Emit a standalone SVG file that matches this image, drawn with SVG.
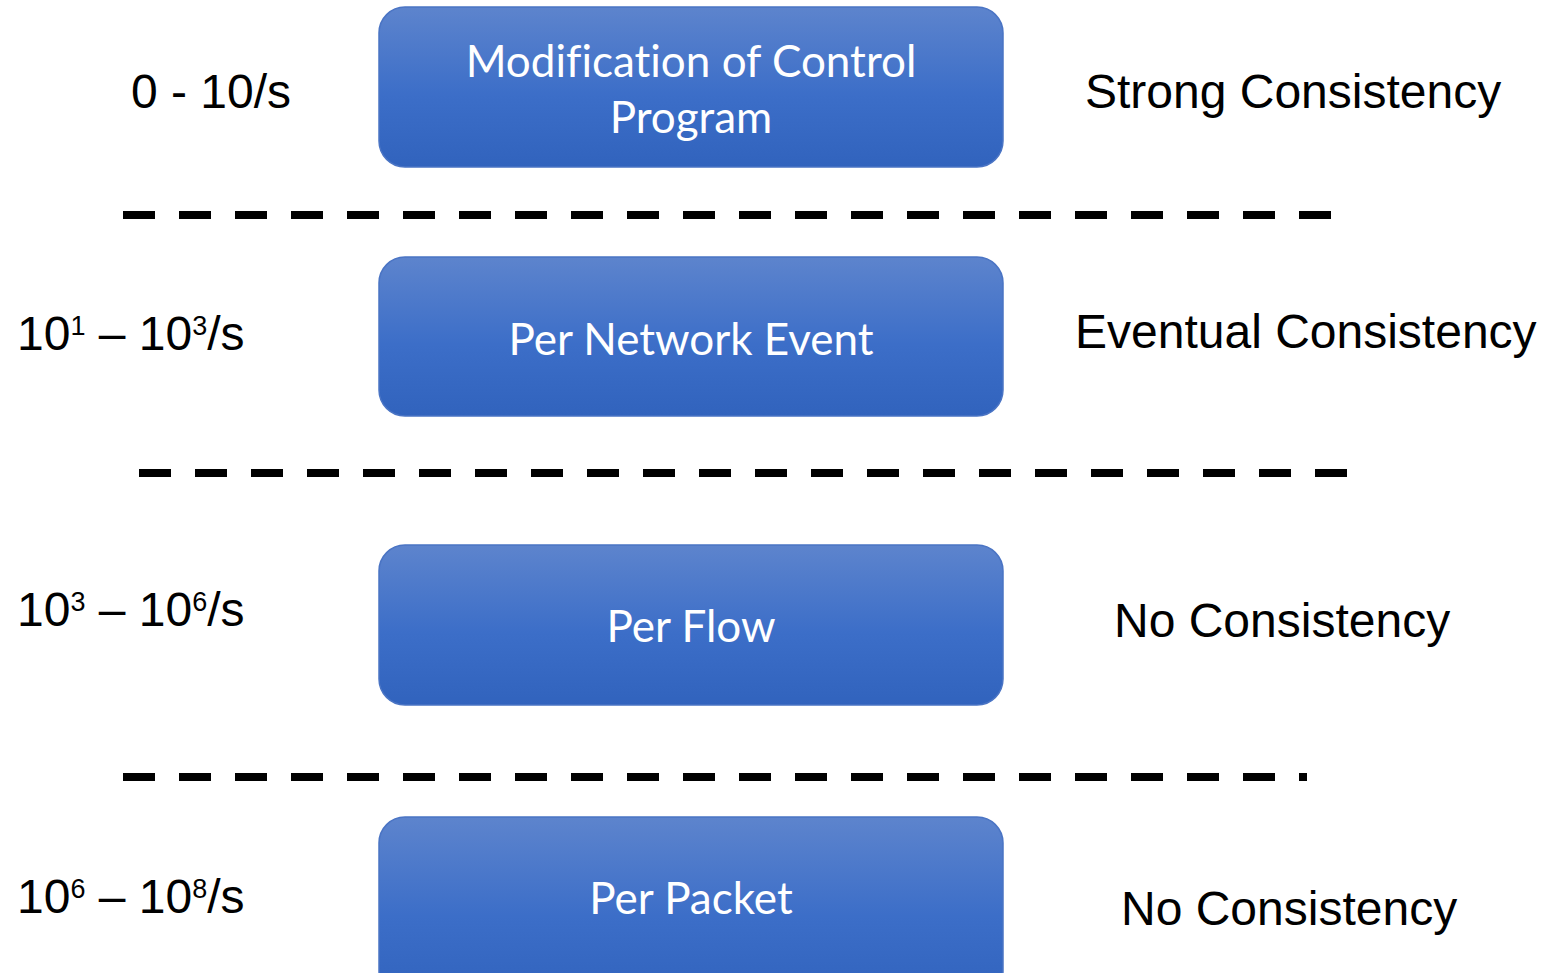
<svg xmlns="http://www.w3.org/2000/svg" width="1554" height="973" viewBox="0 0 1554 973">
  <defs>
    <linearGradient id="boxFill" x1="0" y1="0" x2="0" y2="1">
      <stop offset="0" stop-color="#5d84cd"/>
      <stop offset="0.55" stop-color="#3c6ec8"/>
      <stop offset="1" stop-color="#3163bd"/>
    </linearGradient>
  </defs>
  <style>
    .box { fill: url(#boxFill); stroke: #4a74c4; stroke-width: 1.5; }
    .boxText { font-family: Lato, "Open Sans", sans-serif; font-size: 44px; fill: #ffffff; text-anchor: middle; font-variant-ligatures: none; }
    .label { font-family: "Liberation Sans", Arial, sans-serif; font-size: 48px; fill: #000000; }
    .sup { font-size: 27px; }
    .sep { stroke: #000000; stroke-width: 8; stroke-dasharray: 32 24; fill: none; }
  </style>

  <rect width="1554" height="973" fill="#ffffff"/>

  <!-- Separators between rate tiers -->
  <g id="separators">
    <line class="sep" x1="123" y1="215" x2="1331" y2="215"/>
    <line class="sep" x1="139" y1="473" x2="1347" y2="473"/>
    <line class="sep" x1="123" y1="777" x2="1307" y2="777"/>
  </g>

  <!-- Tier 1 -->
  <g id="tier-control-program">
    <rect class="box" x="379" y="7" width="624" height="160" rx="26"/>
    <text class="boxText" x="691" y="77">Modification of Control</text>
    <text class="boxText" x="691" y="133">Program</text>
  </g>
  <g id="rate-1"><text class="label" x="131" y="108">0 - 10/s</text></g>
  <g id="consistency-1"><text class="label" x="1085" y="108">Strong Consistency</text></g>

  <!-- Tier 2 -->
  <g id="tier-network-event">
    <rect class="box" x="379" y="257" width="624" height="159" rx="26"/>
    <text class="boxText" x="691" y="355">Per Network Event</text>
  </g>
  <g id="rate-2"><text class="label" x="17" y="350">10<tspan class="sup" dy="-15">1</tspan><tspan dy="15"> – 10</tspan><tspan class="sup" dy="-15">3</tspan><tspan dy="15">/s</tspan></text></g>
  <g id="consistency-2"><text class="label" x="1075" y="348">Eventual Consistency</text></g>

  <!-- Tier 3 -->
  <g id="tier-flow">
    <rect class="box" x="379" y="545" width="624" height="160" rx="26"/>
    <text class="boxText" x="691" y="642">Per Flow</text>
  </g>
  <g id="rate-3"><text class="label" x="17" y="626">10<tspan class="sup" dy="-15">3</tspan><tspan dy="15"> – 10</tspan><tspan class="sup" dy="-15">6</tspan><tspan dy="15">/s</tspan></text></g>
  <g id="consistency-3"><text class="label" x="1114" y="637">No Consistency</text></g>

  <!-- Tier 4 -->
  <g id="tier-packet">
    <rect class="box" x="379" y="817" width="624" height="180" rx="26"/>
    <text class="boxText" x="691" y="914">Per Packet</text>
  </g>
  <g id="rate-4"><text class="label" x="17" y="913">10<tspan class="sup" dy="-15">6</tspan><tspan dy="15"> – 10</tspan><tspan class="sup" dy="-15">8</tspan><tspan dy="15">/s</tspan></text></g>
  <g id="consistency-4"><text class="label" x="1121" y="925">No Consistency</text></g>
</svg>
